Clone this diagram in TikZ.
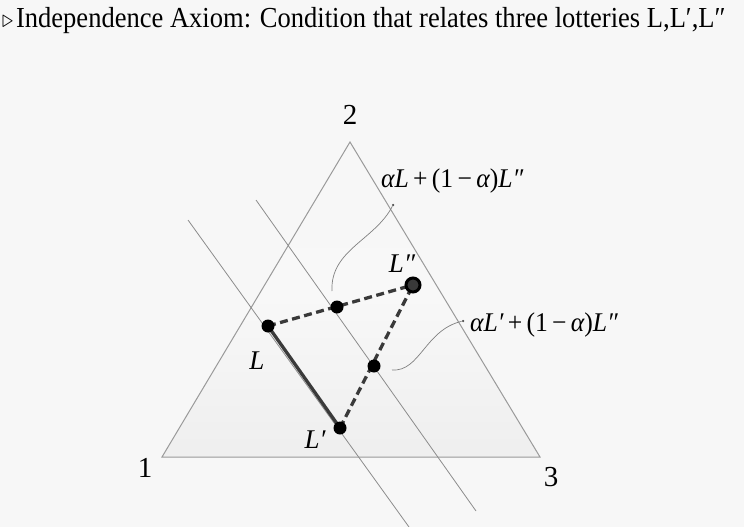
\documentclass[tikz,border=0pt]{standalone}
\usepackage{fontspec}
\setmainfont{Liberation Serif}
\usepackage{tikz}

\definecolor{bgcol}{HTML}{F7F7F7}
\definecolor{edgecol}{HTML}{9A9A9A}
\definecolor{linecol}{HTML}{8C8C8C}
\definecolor{segcol}{HTML}{3A3A3A}

\tikzset{
  lottery/.style={circle, fill=black, inner sep=0pt, minimum size=13pt},
  bigdot/.style={circle, fill=gray!45!black, draw=black, line width=3pt, inner sep=0pt, minimum size=14pt},
  tinydot/.style={circle, fill=black!70, inner sep=0pt, minimum size=2.5pt},
  simplex/.style={draw=edgecol, line width=1pt},
  indiff/.style={draw=linecol, line width=0.8pt},
  mixline/.style={draw=segcol, line width=3.3pt, dash pattern=on 8pt off 4.5pt},
  pointer/.style={draw=gray, line width=0.7pt},
  vlabel/.style={font=\fontsize{29}{29}\selectfont},
  mlabel/.style={font=\fontsize{27}{27}\selectfont\itshape}
}

\begin{document}
\begin{tikzpicture}[x=1pt, y=-1pt]
% Frame
\fill[bgcol] (0,0) rectangle (744,527);
\useasboundingbox (0,0) rectangle (744,527);

% Title
\node[anchor=west, inner sep=0pt, xscale=0.915, font=\fontsize{29}{29}\selectfont] (title) at (2,21)
  {$\triangleright$\kern3pt Independence Axiom: Condition that relates three lotteries L,L′,L″};

% Simplex corners
\coordinate (v1) at (162,457);
\coordinate (v2) at (350,142);
\coordinate (v3) at (540,457);
\shade[top color=bgcol, bottom color=gray!13, middle color=bgcol!60!gray!13] (v1) -- (v2) -- (v3) -- cycle;
\draw[simplex] (v1) -- (v2) -- (v3) -- cycle;
\node[vlabel] (n1) at (145,468) {1};
\node[vlabel] (n2) at (350,115) {2};
\node[vlabel] (n3) at (551,477) {3};

% Indifference lines
\coordinate (a1) at (188,220);
\coordinate (a2) at (409,527);
\coordinate (b1) at (256,200);
\coordinate (b2) at (476,511);
\draw[indiff] (a1) -- (a2);
\draw[indiff] (b1) -- (b2);

% Lotteries
\coordinate (L) at (268,326);
\coordinate (Lp) at (340,428);
\coordinate (Lpp) at (413,285);
\coordinate (M1) at (337,307);
\coordinate (M2) at (374,366);

\draw[segcol, line width=3.3pt] (L) -- (Lp);
\draw[mixline] (L) -- (Lpp);
\draw[mixline] (Lp) -- (Lpp);

\node[lottery] (pL) at (L) {};
\node[lottery] (pLp) at (Lp) {};
\node[lottery] (pM1) at (M1) {};
\node[lottery] (pM2) at (M2) {};
\node[bigdot] (pLpp) at (Lpp) {};

\node[mlabel] (tL) at (257,361) {L};
\node[mlabel] (tLp) at (315,440) {L′};
\node[mlabel] (tLpp) at (402,264) {L″};

% Mixture labels
\node[tinydot] (d1) at (393,205) {};
\node[tinydot] (d2) at (463,321) {};
\node[mlabel, anchor=west, inner sep=0pt, xscale=0.95] (mix1) at (381,181)
  {αL\,\upshape+\,(1\,−\,\itshape α\upshape)\itshape L″};
\node[mlabel, anchor=west, inner sep=0pt, xscale=0.95] (mix2) at (470,325)
  {αL′\,\upshape+\,(1\,−\,\itshape α\upshape)\itshape L″};
\coordinate (e1) at (332,291);
\coordinate (e2) at (392,370);
\draw[pointer] (d1) .. controls (375,240) and (330,250) .. (e1);
\draw[pointer] (d2) .. controls (425,330) and (420,372) .. (e2);

\end{tikzpicture}
\end{document}
